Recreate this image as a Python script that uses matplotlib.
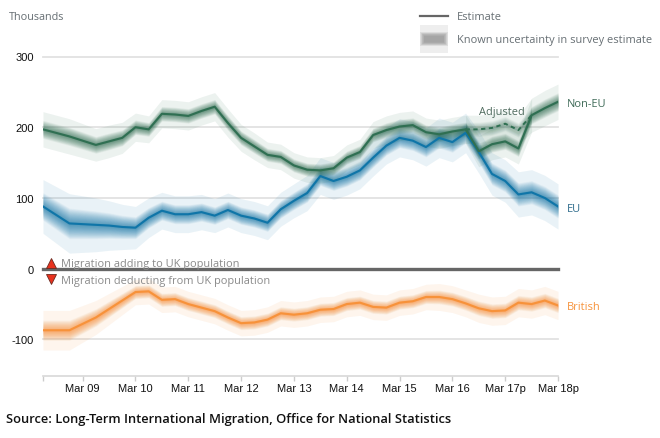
#!/usr/bin/env python3
import matplotlib
matplotlib.use('Agg')
import matplotlib.pyplot as plt
from matplotlib.patches import Rectangle

# Trimestres, de Jun 08 a Mar 18 (marcas de ano em cada Mar)
quarters = list(range(40))
tick_positions = [0, 3, 7, 11, 15, 19, 23, 27, 31, 35, 39]
tick_labels = ['', 'Mar 09', 'Mar 10', 'Mar 11', 'Mar 12', 'Mar 13', 'Mar 14',
               'Mar 15', 'Mar 16', 'Mar 17p', 'Mar 18p']
y_ticks = [-100, 0, 100, 200, 300]

non_eu = [197, 192, 187, 181, 175, 180, 185, 200, 197, 219, 218, 216, 223, 229,
          206, 185, 173, 161, 158, 146, 140, 139, 142, 157, 165, 189, 196, 201,
          203, 193, 190, 194, 197, 166, 176, 180, 170, 217, 227, 236]
non_eu_err = [25, 25, 25, 24, 23, 23, 22, 20, 19, 20, 20, 20, 20, 20, 20, 19, 19,
              18, 18, 18, 18, 18, 18, 18, 18, 19, 20, 20, 20, 20, 20, 20, 20, 22,
              22, 22, 22, 24, 25, 25]

# Linha tracejada "Adjusted"
adjusted_x = [32, 33, 34, 35, 36, 37]
adjusted = [197, 197, 199, 205, 196, 217]
adjusted_err = [20, 20, 20, 20, 20, 24]

eu = [88, 76, 64, 63, 62, 61, 59, 58, 72, 82, 77, 77, 80, 75, 83, 75, 71, 65, 84,
      96, 107, 131, 124, 130, 139, 157, 174, 185, 181, 172, 185, 179, 192, 165,
      134, 124, 105, 108, 100, 88]
eu_err = [38, 40, 42, 40, 38, 35, 32, 30, 28, 26, 26, 26, 25, 24, 24, 24, 24, 24,
          24, 24, 25, 26, 26, 26, 26, 26, 26, 27, 27, 27, 28, 28, 28, 30, 30, 30,
          32, 32, 32, 32]

british = [-87, -87, -87, -78, -69, -57, -45, -33, -32, -44, -43, -50, -55, -60,
           -69, -77, -76, -72, -63, -65, -63, -58, -57, -50, -48, -54, -55, -48,
           -46, -40, -40, -43, -49, -56, -60, -59, -48, -50, -45, -52]
british_err = [28, 28, 28, 26, 24, 22, 20, 18, 18, 18, 18, 18, 18, 18, 18, 18, 18,
               18, 18, 18, 18, 18, 18, 18, 18, 18, 18, 18, 18, 18, 19, 19, 19, 20,
               20, 20, 20, 20, 20, 20]

GREEN = '#2f6f52'
BLUE = '#0f75a8'
ORANGE = '#f7923a'
BLACK_TEXT = '#111111'
GREY_TEXT = '#666e73'


def band(ax, x, y, err, color, alpha=0.035):
    # Faixa clara + degradê em volta da linha
    low = [v - e for v, e in zip(y, err)]
    high = [v + e for v, e in zip(y, err)]
    ax.fill_between(x, low, high, color=color, alpha=0.09, lw=0, zorder=2)
    steps = 30
    for i in range(steps):
        f = 0.52 * (1 - i / steps) ** 1.2
        low = [v - e * f for v, e in zip(y, err)]
        high = [v + e * f for v, e in zip(y, err)]
        ax.fill_between(x, low, high, color=color, alpha=alpha, lw=0, zorder=2)


fig = plt.figure(figsize=(6.6, 4.39), dpi=100)
W, H = 660, 439
ax = fig.add_axes([43 / W, 1 - 376.5 / H, (558 - 43) / W, (376.5 - 57.5) / H])
ax.set_xlim(0, 39)
ax.set_ylim(-151, 300)

band(ax, quarters, eu, eu_err, BLUE)
band(ax, quarters, non_eu, non_eu_err, GREEN)
band(ax, adjusted_x, adjusted, adjusted_err, GREEN, alpha=0.02)
band(ax, quarters, british, british_err, ORANGE)

ax.plot(quarters, eu, color=BLUE, lw=1.5, zorder=4)
ax.plot(quarters, non_eu, color=GREEN, lw=1.5, zorder=5)
ax.plot(adjusted_x, adjusted, color=GREEN, lw=1.4, ls=(0, (2.2, 1.8)), zorder=5)
ax.plot(quarters, british, color=ORANGE, lw=1.5, zorder=4)

for v in y_ticks:
    if v == 0:
        ax.axhline(v, color='#666666', lw=2.4, zorder=3, clip_on=False)
    else:
        ax.axhline(v, color='#e2e2e2', lw=1.3, zorder=1, clip_on=False)

for s in ['top', 'left', 'right']:
    ax.spines[s].set_visible(False)
ax.spines['bottom'].set_color('#d8d8d8')
ax.spines['bottom'].set_linewidth(1.2)

ax.set_xticks(tick_positions)
ax.set_xticklabels(tick_labels, fontfamily='Liberation Sans', fontsize=8, color=BLACK_TEXT)
ax.tick_params(axis='x', length=3.6, width=1, color='#cccccc', pad=2)
ax.set_yticks(y_ticks)
ax.set_yticklabels(['-100', '0', '100', '200', '300'], fontfamily='Liberation Sans',
                   fontsize=8, color=BLACK_TEXT)
ax.tick_params(axis='y', length=0, pad=6.5)
ax.patch.set_alpha(0)

# Camada em pixels para textos e legenda
top = fig.add_axes([0, 0, 1, 1], zorder=10)
top.set_xlim(0, W)
top.set_ylim(H, 0)
top.axis('off')

sans = 'Open Sans'
top.text(9, 18, 'Thousands', family=sans, fontsize=7.8, color=GREY_TEXT, va='center')
top.text(457, 18, 'Estimate', family=sans, fontsize=7.95, color=GREY_TEXT, va='center')
top.text(457, 41, 'Known uncertainty in survey estimate', family=sans, fontsize=7.95,
         color=GREY_TEXT, va='center')

top.plot([420, 448], [16.5, 16.5], color='#666666', lw=1.6)
top.add_patch(Rectangle((420, 26), 28, 28, color='#999999', alpha=0.16, lw=0))
for i in range(12):
    top.add_patch(Rectangle((420 + i * 0.4, 33 + i * 0.35), 28 - i * 0.8, 14 - i * 0.7,
                            color='#808080', alpha=0.08, lw=0))

top.text(567, 105, 'Non-EU', family=sans, fontsize=7.95, color='#3f6b58', va='center')
top.text(567, 210, 'EU', family=sans, fontsize=7.95, color='#2f6c8c', va='center')
top.text(567, 308, 'British', family=sans, fontsize=7.95, color=ORANGE, va='center')
top.text(479, 113, 'Adjusted', family=sans, fontsize=7.95, color='#4f6b5e', va='center')

top.plot([50.5], [263.5], marker='^', ms=7.5, mfc='#e8321e', mec='#6b2a20', mew=0.6)
top.plot([50.5], [280], marker='v', ms=7.5, mfc='#e8321e', mec='#6b2a20', mew=0.6)
top.text(61, 265, 'Migration adding to UK population', family=sans, fontsize=7.95,
         color='#8a8a8a', va='center')
top.text(61, 282, 'Migration deducting from UK population', family=sans, fontsize=7.95,
         color='#8a8a8a', va='center')

top.text(6, 420, 'Source: Long-Term International Migration, Office for National Statistics',
         family=sans, fontsize=9.3, fontweight='semibold', color='#111111', va='center')

fig.savefig('out.png', dpi=100)
